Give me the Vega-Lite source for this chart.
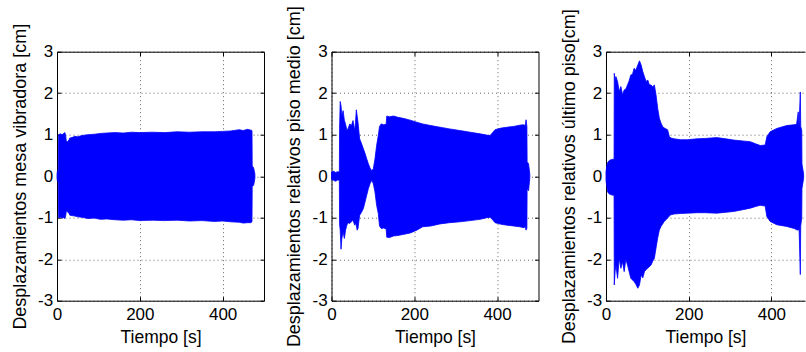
{
  "$schema": "https://vega.github.io/schema/vega-lite/v6.json",
  "padding": {"left": 11, "top": 4.7, "right": 0, "bottom": 0},
  "bounds": "flush",
  "spacing": 67.5,
  "background": "white",
  "config": {
    "font": "Liberation Sans",
    "view": {"stroke": null},
    "axis": {
      "domainColor": "#000000",
      "domainWidth": 1,
      "tickColor": "#000000",
      "tickSize": -4,
      "tickWidth": 1,
      "labelFont": "Liberation Sans",
      "labelFontSize": 17,
      "labelColor": "#000000",
      "labelFlush": false,
      "labelOverlap": false,
      "labelExpr": "datum.value < 0 ? '-' + abs(datum.value) : '' + datum.value",
      "titleFont": "Liberation Sans",
      "titleFontSize": 17.5,
      "titleFontWeight": "normal",
      "titleColor": "#000000",
      "gridColor": "#000000",
      "gridDash": [1, 3],
      "gridOpacity": 0.6,
      "gridWidth": 1
    },
    "axisX": {"labelPadding": 9.9, "titlePadding": 6},
    "axisY": {"labelPadding": 8.3, "titlePadding": 8.3, "titleFontSize": 18}
  },
  "datasets": {
    "p1": [
      {"t": 0, "hi": 0.05, "lo": -0.05},
      {"t": 1, "hi": 0.13, "lo": -0.12},
      {"t": 3, "hi": 0.12, "lo": -0.13},
      {"t": 4, "hi": 1.0, "lo": -1.0},
      {"t": 8, "hi": 1.02, "lo": -0.99},
      {"t": 12, "hi": 1.0, "lo": -1.01},
      {"t": 16, "hi": 1.03, "lo": -1.0},
      {"t": 19, "hi": 1.05, "lo": -1.02},
      {"t": 21, "hi": 0.98, "lo": -0.95},
      {"t": 22.5, "hi": 0.84, "lo": -0.84},
      {"t": 26, "hi": 0.83, "lo": -0.86},
      {"t": 29, "hi": 0.88, "lo": -0.9},
      {"t": 31, "hi": 0.92, "lo": -0.94},
      {"t": 36, "hi": 0.93, "lo": -0.95},
      {"t": 43, "hi": 0.96, "lo": -0.96},
      {"t": 50, "hi": 0.95, "lo": -0.98},
      {"t": 60, "hi": 0.98, "lo": -0.99},
      {"t": 75, "hi": 1.0, "lo": -1.02},
      {"t": 90, "hi": 1.01, "lo": -1.01},
      {"t": 105, "hi": 1.03, "lo": -1.04},
      {"t": 120, "hi": 1.04, "lo": -1.03},
      {"t": 140, "hi": 1.05, "lo": -1.05},
      {"t": 160, "hi": 1.04, "lo": -1.06},
      {"t": 180, "hi": 1.06, "lo": -1.05},
      {"t": 200, "hi": 1.05, "lo": -1.07},
      {"t": 230, "hi": 1.06, "lo": -1.06},
      {"t": 260, "hi": 1.05, "lo": -1.07},
      {"t": 290, "hi": 1.07, "lo": -1.06},
      {"t": 320, "hi": 1.06, "lo": -1.08},
      {"t": 350, "hi": 1.07, "lo": -1.07},
      {"t": 380, "hi": 1.07, "lo": -1.09},
      {"t": 400, "hi": 1.08, "lo": -1.08},
      {"t": 420, "hi": 1.09, "lo": -1.1},
      {"t": 440, "hi": 1.12, "lo": -1.11},
      {"t": 450, "hi": 1.1, "lo": -1.13},
      {"t": 460, "hi": 1.13, "lo": -1.12},
      {"t": 468, "hi": 1.11, "lo": -1.12},
      {"t": 471, "hi": 1.1, "lo": -1.1},
      {"t": 471.5, "hi": 0.25, "lo": -0.24},
      {"t": 475, "hi": 0.2, "lo": -0.22},
      {"t": 478, "hi": 0.05, "lo": -0.05}
    ],
    "p2": [
      {"t": 0, "hi": 0.1, "lo": -0.08},
      {"t": 5, "hi": 0.12, "lo": -0.1},
      {"t": 10, "hi": 0.09, "lo": -0.12},
      {"t": 15, "hi": 0.11, "lo": -0.09},
      {"t": 19, "hi": 0.1, "lo": -0.1},
      {"t": 19.5, "hi": 1.15, "lo": -1.15},
      {"t": 21, "hi": 1.8, "lo": -1.3},
      {"t": 23, "hi": 1.7, "lo": -1.76},
      {"t": 25, "hi": 1.45, "lo": -1.5},
      {"t": 28, "hi": 1.58, "lo": -1.34},
      {"t": 31, "hi": 1.35, "lo": -1.5},
      {"t": 34, "hi": 1.25, "lo": -1.3},
      {"t": 37, "hi": 1.12, "lo": -1.18},
      {"t": 40, "hi": 1.14, "lo": -1.12},
      {"t": 44, "hi": 1.26, "lo": -1.14},
      {"t": 48, "hi": 1.22, "lo": -1.1},
      {"t": 52, "hi": 1.34, "lo": -1.06},
      {"t": 56, "hi": 1.1, "lo": -1.18},
      {"t": 58, "hi": 1.3, "lo": -1.12},
      {"t": 60, "hi": 1.6, "lo": -1.2},
      {"t": 62, "hi": 1.45, "lo": -1.3},
      {"t": 64, "hi": 1.3, "lo": -1.26},
      {"t": 68, "hi": 0.9, "lo": -0.94},
      {"t": 72, "hi": 0.8, "lo": -0.88},
      {"t": 77, "hi": 0.66, "lo": -0.78},
      {"t": 81, "hi": 0.55, "lo": -0.62},
      {"t": 85, "hi": 0.42, "lo": -0.46},
      {"t": 89, "hi": 0.3, "lo": -0.3},
      {"t": 93, "hi": 0.2, "lo": -0.18},
      {"t": 97, "hi": 0.13, "lo": -0.1},
      {"t": 101, "hi": 0.18, "lo": -0.18},
      {"t": 105, "hi": 0.42, "lo": -0.38},
      {"t": 109, "hi": 0.74, "lo": -0.7},
      {"t": 113, "hi": 0.98, "lo": -0.9},
      {"t": 116, "hi": 1.2, "lo": -1.2},
      {"t": 120, "hi": 1.26, "lo": -1.26},
      {"t": 126, "hi": 1.24, "lo": -1.25},
      {"t": 132, "hi": 1.25, "lo": -1.27},
      {"t": 133.5, "hi": 1.45, "lo": -1.47},
      {"t": 140, "hi": 1.43, "lo": -1.48},
      {"t": 150, "hi": 1.45, "lo": -1.44},
      {"t": 160, "hi": 1.42, "lo": -1.43},
      {"t": 175, "hi": 1.39, "lo": -1.4},
      {"t": 190, "hi": 1.35, "lo": -1.37},
      {"t": 206, "hi": 1.3, "lo": -1.3},
      {"t": 220, "hi": 1.26, "lo": -1.22},
      {"t": 240, "hi": 1.22, "lo": -1.2},
      {"t": 262, "hi": 1.18, "lo": -1.15},
      {"t": 285, "hi": 1.14, "lo": -1.12},
      {"t": 310, "hi": 1.1, "lo": -1.1},
      {"t": 335, "hi": 1.06, "lo": -1.07},
      {"t": 359, "hi": 1.02, "lo": -1.04},
      {"t": 375, "hi": 0.99, "lo": -1.0},
      {"t": 383, "hi": 0.98, "lo": -0.99},
      {"t": 390, "hi": 1.06, "lo": -1.06},
      {"t": 395, "hi": 1.12, "lo": -1.12},
      {"t": 410, "hi": 1.16, "lo": -1.16},
      {"t": 424, "hi": 1.18, "lo": -1.18},
      {"t": 440, "hi": 1.2, "lo": -1.2},
      {"t": 455, "hi": 1.23, "lo": -1.22},
      {"t": 464, "hi": 1.24, "lo": -1.24},
      {"t": 468, "hi": 1.22, "lo": -1.22},
      {"t": 470, "hi": 1.36, "lo": -1.3},
      {"t": 472, "hi": 1.2, "lo": -1.25},
      {"t": 472.5, "hi": 0.35, "lo": -0.3},
      {"t": 476, "hi": 0.3, "lo": -0.35},
      {"t": 479, "hi": 0.05, "lo": -0.05}
    ],
    "p3": [
      {"t": 0, "hi": 0.1, "lo": -0.1},
      {"t": 2, "hi": 0.25, "lo": -0.25},
      {"t": 4, "hi": 0.33, "lo": -0.38},
      {"t": 8, "hi": 0.38, "lo": -0.43},
      {"t": 13, "hi": 0.4, "lo": -0.45},
      {"t": 18, "hi": 0.41, "lo": -0.46},
      {"t": 19.5, "hi": 0.4, "lo": -0.45},
      {"t": 20, "hi": 2.48, "lo": -2.62},
      {"t": 22, "hi": 2.3, "lo": -2.3},
      {"t": 24, "hi": 2.4, "lo": -2.14},
      {"t": 28, "hi": 2.28, "lo": -2.46},
      {"t": 32, "hi": 2.04, "lo": -1.98},
      {"t": 36, "hi": 2.16, "lo": -2.22},
      {"t": 40, "hi": 1.96, "lo": -2.06},
      {"t": 44, "hi": 2.08, "lo": -2.3},
      {"t": 48, "hi": 2.1, "lo": -2.0},
      {"t": 52, "hi": 2.2, "lo": -2.14},
      {"t": 56, "hi": 2.3, "lo": -2.3},
      {"t": 60, "hi": 2.44, "lo": -2.46},
      {"t": 64, "hi": 2.45, "lo": -2.5},
      {"t": 68, "hi": 2.6, "lo": -2.54},
      {"t": 72, "hi": 2.55, "lo": -2.6},
      {"t": 77, "hi": 2.68, "lo": -2.7},
      {"t": 81, "hi": 2.78, "lo": -2.62},
      {"t": 85, "hi": 2.68, "lo": -2.38},
      {"t": 89, "hi": 2.52, "lo": -2.45},
      {"t": 93, "hi": 2.4, "lo": -2.3},
      {"t": 97, "hi": 2.28, "lo": -2.25},
      {"t": 101, "hi": 2.32, "lo": -2.22},
      {"t": 105, "hi": 2.2, "lo": -2.18},
      {"t": 109, "hi": 2.2, "lo": -2.14},
      {"t": 113, "hi": 2.15, "lo": -2.05},
      {"t": 117, "hi": 2.2, "lo": -1.98},
      {"t": 121, "hi": 1.96, "lo": -1.73},
      {"t": 125, "hi": 1.64, "lo": -1.49},
      {"t": 129, "hi": 1.4, "lo": -1.3},
      {"t": 133, "hi": 1.28, "lo": -1.21},
      {"t": 137, "hi": 1.2, "lo": -1.15},
      {"t": 141, "hi": 1.16, "lo": -1.09},
      {"t": 149, "hi": 1.12, "lo": -1.01},
      {"t": 153, "hi": 0.96, "lo": -0.96},
      {"t": 157, "hi": 0.92, "lo": -0.93},
      {"t": 165, "hi": 0.9, "lo": -0.91},
      {"t": 180, "hi": 0.88, "lo": -0.9},
      {"t": 197, "hi": 0.88, "lo": -0.89},
      {"t": 220, "hi": 0.9, "lo": -0.88},
      {"t": 240, "hi": 0.91, "lo": -0.88},
      {"t": 268, "hi": 0.93, "lo": -0.89},
      {"t": 290, "hi": 0.9, "lo": -0.87},
      {"t": 309, "hi": 0.87, "lo": -0.85},
      {"t": 330, "hi": 0.85, "lo": -0.81},
      {"t": 349, "hi": 0.83, "lo": -0.77},
      {"t": 362, "hi": 0.78, "lo": -0.73},
      {"t": 373, "hi": 0.74, "lo": -0.7},
      {"t": 385, "hi": 0.75, "lo": -0.72},
      {"t": 389, "hi": 0.95, "lo": -0.97},
      {"t": 397, "hi": 1.07, "lo": -1.09},
      {"t": 413, "hi": 1.15, "lo": -1.17},
      {"t": 437, "hi": 1.22, "lo": -1.21},
      {"t": 455, "hi": 1.24, "lo": -1.26},
      {"t": 461, "hi": 1.25, "lo": -1.29},
      {"t": 465, "hi": 1.55, "lo": -1.3},
      {"t": 467, "hi": 1.2, "lo": -1.25},
      {"t": 470, "hi": 2.03, "lo": -2.37},
      {"t": 471, "hi": 1.2, "lo": -1.2},
      {"t": 473.5, "hi": 1.1, "lo": -1.0},
      {"t": 474, "hi": 0.3, "lo": -0.3},
      {"t": 478, "hi": 0.05, "lo": -0.05}
    ]
  },
  "hconcat": [
    {
      "width": 207,
      "height": 249,
      "data": {"name": "p1"},
      "layer": [
        {
          "mark": {"type": "area", "fill": "#0000ff", "stroke": "#0000ff", "strokeWidth": 0.8, "opacity": 1},
          "encoding": {
            "x": {"field": "t", "type": "quantitative", "scale": {"domain": [0, 500], "nice": false, "zero": false}, "axis": {"orient": "bottom", "values": [0, 200, 400], "title": "Tiempo [s]", "grid": true}},
            "y": {"field": "hi", "type": "quantitative", "scale": {"domain": [-3, 3], "nice": false}, "axis": {"orient": "left", "values": [-3, -2, -1, 0, 1, 2, 3], "title": "Desplazamientos mesa vibradora [cm]", "grid": true}},
            "y2": {"field": "lo"}
          }
        },
        {
          "mark": {"type": "point", "opacity": 0},
          "encoding": {
            "x": {"field": "t", "type": "quantitative", "axis": {"orient": "top", "values": [0, 200, 400], "labels": false, "title": null, "grid": false}},
            "y": {"field": "hi", "type": "quantitative", "axis": {"orient": "right", "values": [-3, -2, -1, 0, 1, 2, 3], "labels": false, "title": null, "grid": false}}
          }
        }
      ],
      "resolve": {"axis": {"x": "independent", "y": "independent"}}
    },
    {
      "width": 207,
      "height": 249,
      "data": {"name": "p2"},
      "layer": [
        {
          "mark": {"type": "area", "fill": "#0000ff", "stroke": "#0000ff", "strokeWidth": 0.8, "opacity": 1},
          "encoding": {
            "x": {"field": "t", "type": "quantitative", "scale": {"domain": [0, 500], "nice": false, "zero": false}, "axis": {"orient": "bottom", "values": [0, 200, 400], "title": "Tiempo [s]", "grid": true}},
            "y": {"field": "hi", "type": "quantitative", "scale": {"domain": [-3, 3], "nice": false}, "axis": {"orient": "left", "values": [-3, -2, -1, 0, 1, 2, 3], "title": "Desplazamientos relativos piso medio [cm]", "grid": true}},
            "y2": {"field": "lo"}
          }
        },
        {
          "mark": {"type": "point", "opacity": 0},
          "encoding": {
            "x": {"field": "t", "type": "quantitative", "axis": {"orient": "top", "values": [0, 200, 400], "labels": false, "title": null, "grid": false}},
            "y": {"field": "hi", "type": "quantitative", "axis": {"orient": "right", "values": [-3, -2, -1, 0, 1, 2, 3], "labels": false, "title": null, "grid": false}}
          }
        }
      ],
      "resolve": {"axis": {"x": "independent", "y": "independent"}}
    },
    {
      "width": 199,
      "height": 249,
      "data": {"name": "p3"},
      "layer": [
        {
          "mark": {"type": "area", "fill": "#0000ff", "stroke": "#0000ff", "strokeWidth": 0.8, "opacity": 1},
          "encoding": {
            "x": {"field": "t", "type": "quantitative", "scale": {"domain": [0, 481.3], "nice": false, "zero": false}, "axis": {"orient": "bottom", "values": [0, 200, 400], "title": "Tiempo [s]", "grid": true}},
            "y": {"field": "hi", "type": "quantitative", "scale": {"domain": [-3, 3], "nice": false}, "axis": {"orient": "left", "values": [-3, -2, -1, 0, 1, 2, 3], "title": "Desplazamientos relativos último piso[cm]", "grid": true}},
            "y2": {"field": "lo"}
          }
        },
        {
          "mark": {"type": "point", "opacity": 0},
          "encoding": {
            "x": {"field": "t", "type": "quantitative", "axis": {"orient": "top", "values": [0, 200, 400], "labels": false, "title": null, "grid": false}}
          }
        }
      ],
      "resolve": {"axis": {"x": "independent"}}
    }
  ]
}
